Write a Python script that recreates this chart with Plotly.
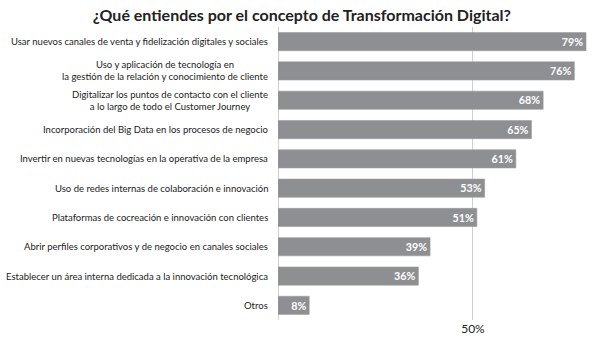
import plotly.graph_objects as go

# Survey answers, top to bottom
categories = [
    "Usar nuevos canales de venta y fidelización digitales y sociales",
    "Uso y aplicación de tecnología en<br>la gestión de la relación y conocimiento de cliente",
    "Digitalizar los puntos de contacto con el cliente<br>a lo largo de todo el Customer Journey",
    "Incorporación del Big Data en los procesos de negocio",
    "Invertir en nuevas tecnologías en la operativa de la empresa",
    "Uso de redes internas de colaboración e innovación",
    "Plataformas de cocreación e innovación con clientes",
    "Abrir perfiles corporativos y de negocio en canales sociales",
    "Establecer un área interna dedicada a la innovación tecnológica",
    "Otros",
]
values = [79, 76, 68, 65, 61, 53, 51, 39, 36, 8]
tick_values = [50]
tick_labels = ["50%"]

title_text = "¿Qué entiendes por el concepto de Transformación Digital?"

FONT = "Lato, 'Open Sans', sans-serif"
BAR = "#8e8f93"

fig = go.Figure(
    go.Bar(
        x=values,
        y=categories,
        orientation="h",
        marker=dict(color=BAR, line=dict(color="#9a9b9f", width=0.6)),
        width=0.62,
        text=[f"{v}%" for v in values],
        textposition="inside",
        insidetextanchor="end",
        textfont=dict(family=FONT, size=11.5, color="white", weight="bold"),
        cliponaxis=False,
        hoverinfo="skip",
    )
)

# Category labels as annotations so two-line labels stay centred on each other
for cat in categories:
    fig.add_annotation(
        x=0, xref="paper", y=cat, yref="y",
        text=cat, showarrow=False,
        xanchor="right", yanchor="middle", align="center",
        xshift=-8,
        font=dict(family=FONT, size=9.5, color="#222222"),
    )

fig.update_layout(
    width=600, height=345,
    margin=dict(l=278, r=5, t=27, b=25),
    paper_bgcolor="white", plot_bgcolor="white",
    showlegend=False,
    title=dict(
        text=title_text, x=0.503, xanchor="center", y=0.955, yanchor="middle",
        xref="container", yref="container",
        font=dict(family=FONT, size=16, color="#222222", weight="bold"),
    ),
    xaxis=dict(
        range=[0, 81.3],
        tickvals=tick_values, ticktext=tick_labels,
        showgrid=True, gridcolor="#d0d0d0", gridwidth=1,
        zeroline=True, zerolinecolor="#d0d0d0", zerolinewidth=1,
        showline=False, ticks="",
        tickfont=dict(family=FONT, size=12, color="#222222"),
        fixedrange=True,
    ),
    yaxis=dict(
        categoryorder="array", categoryarray=categories[::-1],
        showticklabels=False, showgrid=False, zeroline=False, ticks="",
        range=[-0.5, 9.5],
        fixedrange=True,
    ),
    uniformtext=dict(minsize=8, mode="show"),
)

fig.write_html("out.html")
